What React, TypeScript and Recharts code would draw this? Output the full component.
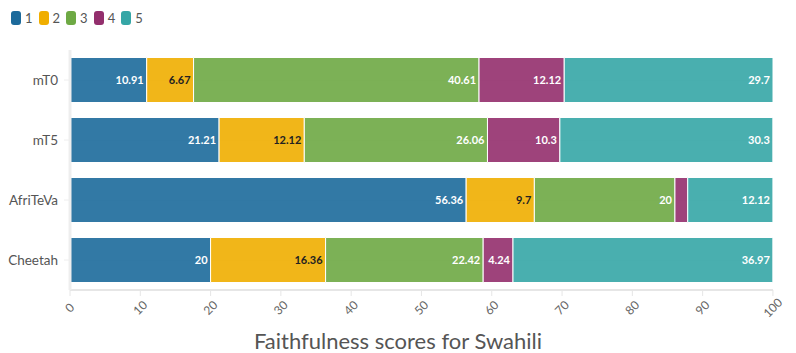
import React from 'react';
import { BarChart, Bar, XAxis, YAxis, CartesianGrid, LabelList } from 'recharts';

const models = ['mT0', 'mT5', 'AfriTeVa', 'Cheetah'];
const s1 = [10.91, 21.21, 56.36, 20];
const s2 = [6.67, 12.12, 9.7, 16.36];
const s3 = [40.61, 26.06, 20, 22.42];
const s4 = [12.12, 10.3, 1.82, 4.24];
const s5 = [29.7, 30.3, 12.12, 36.97];
const seriesNames = ['1', '2', '3', '4', '5'];
const colors = ['#1c6a9b', '#f0ae00', '#6ea944', '#932f6d', '#35a6a6'];
const xTicks = [0, 10, 20, 30, 40, 50, 60, 70, 80, 90, 100];
const title = 'Faithfulness scores for Swahili';

const seriesValues = [s1, s2, s3, s4, s5];
const data = models.map((m, i) => {
  const row: any = { name: m };
  seriesValues.forEach((s, j) => { row['s' + (j + 1)] = s[i]; });
  return row;
});

const FONT = 'Lato, "Open Sans", sans-serif';

const makeLabel = (dark: boolean) => (props: any) => {
  const { x, y, width, height, value } = props;
  if (width < 18) return null;
  return (
    <text x={x + width - 3} y={y + height / 2} dy={4} textAnchor="end" fontSize={11} fontWeight="bold"
      fontFamily={FONT} fill={dark ? '#222' : '#fff'}>{value}</text>
  );
};

const XTick = (props: any) => {
  const { x, y, payload } = props;
  return (
    <g transform={`translate(${x},${y + 10}) rotate(-45)`}>
      <text textAnchor="middle" dy={4} fontSize={12} fill="#666" fontFamily={FONT}>{payload.value}</text>
    </g>
  );
};

const YTick = (props: any) => {
  const { x, y, payload } = props;
  return (
    <text x={x - 4} y={y} dy={5} textAnchor="end" fontSize={13.5} fill="#555" fontFamily={FONT}>{payload.value}</text>
  );
};

const gridGen = (props: any) => {
  const { offset } = props;
  const top = offset?.top ?? 50;
  const h = offset?.height ?? 240;
  const band = h / models.length;
  return models.map((_, i) => top + band * (i + 0.5));
};

export default function App() {
  return (
    <div style={{ position: 'absolute', left: 0, top: 0, width: 796, height: 353, background: '#fff', fontFamily: FONT }}>
      <div style={{ position: 'absolute', left: 11, top: 10, display: 'flex', alignItems: 'center' }}>
        {seriesNames.map((n, i) => (
          <div key={n} style={{ display: 'flex', alignItems: 'center', marginRight: 6 }}>
            <div style={{ width: 10, height: 14, borderRadius: 3, background: colors[i], marginRight: 4 }} />
            <span style={{ fontSize: 13, color: '#555' }}>{n}</span>
          </div>
        ))}
      </div>
      <BarChart width={796} height={353} data={data} layout="vertical"
        margin={{ top: 50, right: 23, bottom: 0, left: 0 }} barCategoryGap="12.5%">
        <CartesianGrid horizontal={true} vertical={false} stroke="#eee" horizontalCoordinatesGenerator={gridGen} />
        <XAxis type="number" domain={[0, 100]} ticks={xTicks} tick={<XTick />} interval={0}
          axisLine={{ stroke: '#e6e6e6', strokeWidth: 2 }} tickLine={{ stroke: '#e6e6e6' }} tickSize={6} height={63} />
        <YAxis type="category" dataKey="name" width={70} tick={<YTick />}
          axisLine={{ stroke: '#eee', strokeWidth: 3 }} tickLine={{ stroke: '#eee' }} tickSize={6} />
        {seriesNames.map((n, i) => (
          <Bar key={n} dataKey={'s' + (i + 1)} stackId="a" fill={colors[i]} fillOpacity={0.9}
            stroke="#fff" strokeWidth={1} isAnimationActive={false}>
            <LabelList dataKey={'s' + (i + 1)} content={makeLabel(i === 1)} />
          </Bar>
        ))}
      </BarChart>
      <div style={{ position: 'absolute', left: 0, width: 796, top: 327, textAlign: 'center', fontSize: 22, color: '#555' }}>
        <span>{title}</span>
      </div>
    </div>
  );
}
